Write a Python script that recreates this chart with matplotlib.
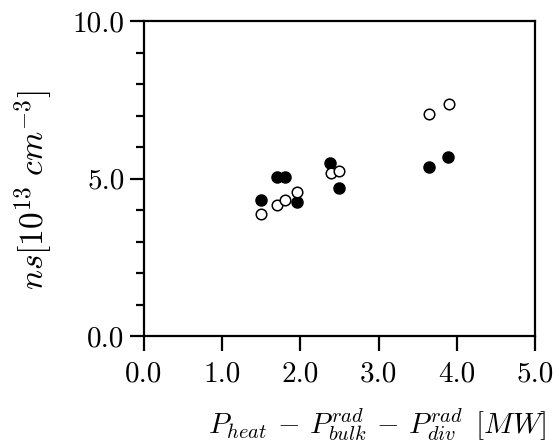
import numpy as np
import matplotlib
matplotlib.use("Agg")
import matplotlib.pyplot as plt
from matplotlib.ticker import FixedLocator, FixedFormatter, MultipleLocator

plt.rcParams['font.family'] = 'serif'
plt.rcParams['font.serif'] = ['cmr10', 'DejaVu Serif']
plt.rcParams['mathtext.fontset'] = 'cm'
plt.rcParams['axes.formatter.use_mathtext'] = True

# filled circles
p_filled = [1.49, 1.70, 1.80, 1.96, 2.38, 2.50, 3.64, 3.89]
n_filled = [4.31, 5.06, 5.06, 4.26, 5.48, 4.69, 5.36, 5.67]
# open circles
p_open = [1.49, 1.70, 1.80, 1.96, 2.39, 2.50, 3.65, 3.90]
n_open = [3.86, 4.16, 4.32, 4.58, 5.19, 5.25, 7.05, 7.35]

x_ticks = [0.0, 1.0, 2.0, 3.0, 4.0, 5.0]
x_labels = ['0.0', '1.0', '2.0', '3.0', '4.0', '5.0']
y_ticks = [0.0, 5.0, 10.0]
y_labels = ['0.0', '5.0', '10.0']

fig = plt.figure(figsize=(5.54, 4.46), dpi=100)
ax = fig.add_axes([0.2599, 0.2466, 0.7058, 0.7063])

ax.plot(p_filled, n_filled, 'o', color='black', markersize=8, zorder=3)
ax.plot(p_open, n_open, 'o', markerfacecolor='white', markeredgecolor='black',
        markeredgewidth=1.1, markersize=7.6, zorder=4)

ax.set_xlim(0, 5)
ax.set_ylim(0, 10)

ax.xaxis.set_major_locator(FixedLocator(x_ticks))
ax.xaxis.set_major_formatter(FixedFormatter(x_labels))
ax.yaxis.set_major_locator(FixedLocator(y_ticks))
ax.yaxis.set_major_formatter(FixedFormatter(y_labels))
ax.yaxis.set_minor_locator(MultipleLocator(1.0))

ax.tick_params(axis='both', which='major', direction='out', width=1.6,
               labelsize=21, top=False, right=False)
ax.tick_params(axis='x', which='major', length=11, pad=7)
ax.tick_params(axis='y', which='major', length=10, pad=4)
ax.tick_params(axis='y', which='minor', direction='out', length=6, width=1.6)

for s in ax.spines.values():
    s.set_linewidth(1.6)

fig.text(0.06, 0.574, r'$ns[10^{13}\ cm^{-3}]$', rotation=90,
         ha='center', va='center', fontsize=24)
fig.text(0.681, 0.047, r'$P_{heat}\,-\,P_{bulk}^{rad}\,-\,P_{div}^{rad}\ \,[MW]$',
         ha='center', va='center', fontsize=21)

fig.savefig('out.png', dpi=100)
